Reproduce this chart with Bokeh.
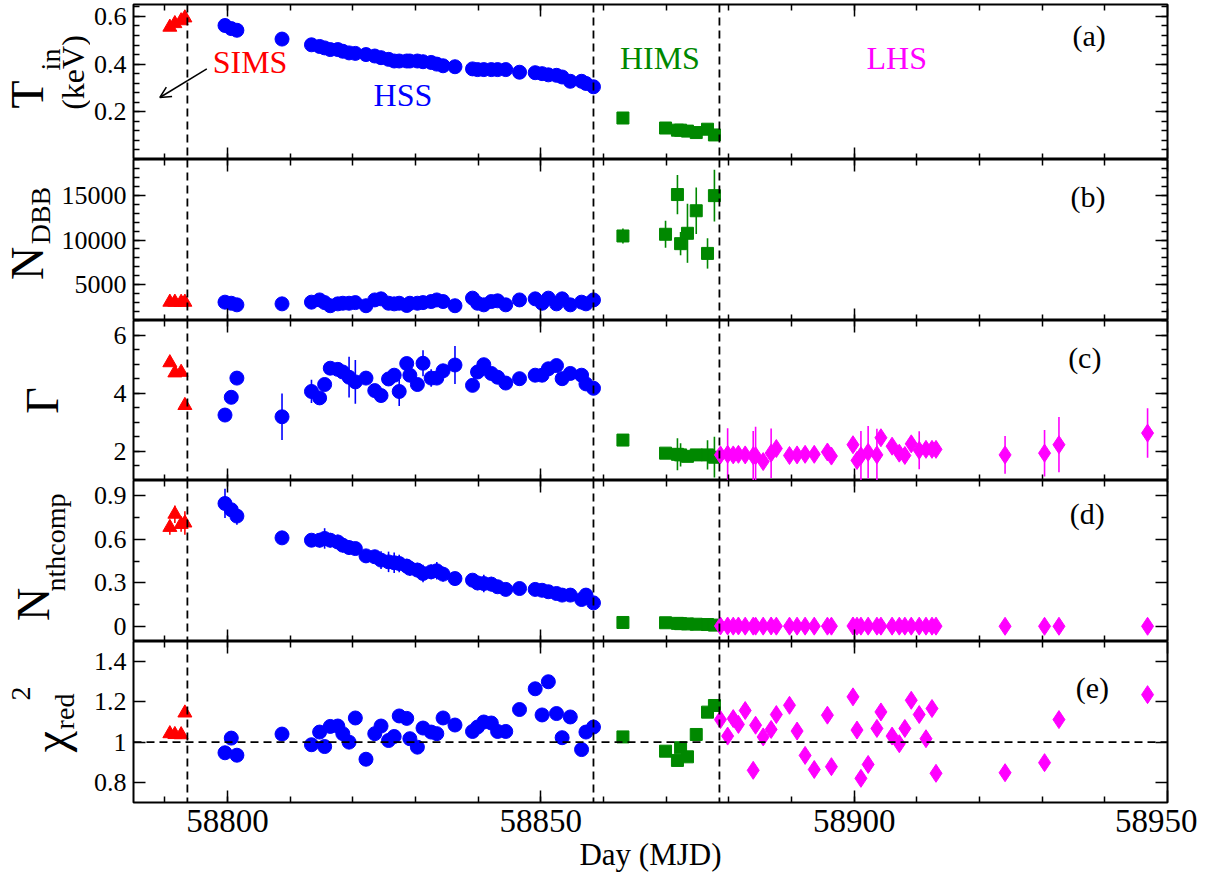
import math
from bokeh.plotting import figure
from bokeh.models import (FixedTicker, Span, Label, Arrow, OpenHead, LinearAxis,
                          Range1d, ColumnDataSource)
from bokeh.layouts import column, row
from bokeh.embed import file_html
from bokeh.resources import INLINE

FONT = "Liberation Serif"

# ---------------- data ----------------
sims_day = [58790.8, 58791.6, 58792.6, 58793.2]
sims_tin = [0.555, 0.570, 0.582, 0.594]
sims_tin_err = [0.008, 0.008, 0.008, 0.008]
sims_ndbb = [3050, 3050, 3040, 3050]
sims_ndbb_err = [150, 150, 150, 150]
sims_gamma = [5.05, 4.70, 4.72, 3.58]
sims_gamma_err = [0.10, 0.10, 0.10, 0.10]
sims_nth = [0.68, 0.77, 0.70, 0.71]
sims_nth_err = [0.05, 0.06, 0.05, 0.08]
sims_chi = [1.042, 1.038, 1.037, 1.145]

hss_day = [58799.6, 58800.6, 58801.5, 58808.7, 58813.4, 58814.7, 58815.5, 58816.4,
           58817.6, 58818.4, 58819.4, 58820.4, 58822.1, 58823.5, 58824.5, 58825.7,
           58826.6, 58827.4, 58828.6, 58829.1, 58830.3, 58831.2, 58832.5, 58833.4,
           58834.4, 58836.3, 58839.1, 58839.9, 58840.9, 58842.1, 58843.1, 58844.4,
           58846.6, 58849.1, 58850.2, 58851.2, 58852.5, 58853.4, 58854.7, 58856.5,
           58857.2, 58858.4]
hss_tin = [0.562, 0.549, 0.542, 0.505, 0.481, 0.474, 0.468, 0.461, 0.461, 0.454,
           0.447, 0.445, 0.440, 0.434, 0.427, 0.420, 0.413, 0.413, 0.413, 0.413,
           0.413, 0.410, 0.407, 0.400, 0.393, 0.389, 0.380, 0.377, 0.377, 0.377,
           0.377, 0.377, 0.366, 0.364, 0.360, 0.355, 0.353, 0.346, 0.328, 0.328,
           0.319, 0.305]
hss_tin_err = [0.015, 0.010, 0.010, 0.010, 0.008, 0.010, 0.010, 0.010, 0.010, 0.010,
               0.010, 0.012, 0.015, 0.012, 0.012, 0.015, 0.015, 0.015, 0.015, 0.015,
               0.015, 0.015, 0.015, 0.015, 0.012, 0.020, 0.020, 0.020, 0.020, 0.020,
               0.020, 0.015, 0.015, 0.015, 0.015, 0.020, 0.020, 0.020, 0.015, 0.012,
               0.015, 0.012]
hss_ndbb = [3050, 2930, 2750, 2860, 3050, 3300, 3000, 2650, 2860, 2930, 2930, 3000,
            2650, 3300, 3420, 2930, 2860, 2930, 2680, 2930, 2930, 3000, 3120, 3300,
            3120, 2650, 3500, 2930, 2750, 3120, 3200, 2750, 3300, 3420, 2930, 3500,
            2860, 3420, 2750, 3050, 2860, 3300]
hss_ndbb_err = [150, 150, 150, 150, 150, 150, 150, 150, 150, 150, 150, 150,
                150, 150, 150, 150, 150, 150, 150, 150, 150, 150, 150, 150,
                150, 150, 150, 150, 150, 150, 150, 150, 150, 150, 150, 150,
                150, 150, 150, 150, 150, 150]
hss_gamma = [3.25, 3.86, 4.52, 3.19, 4.06, 3.84, 4.30, 4.86, 4.82, 4.73, 4.55, 4.39,
             4.52, 4.09, 3.92, 4.49, 4.62, 4.06, 5.02, 4.62, 4.30, 5.03, 4.52, 4.52,
             4.77, 4.97, 4.27, 4.73, 4.98, 4.68, 4.55, 4.35, 4.50, 4.62, 4.62, 4.84,
             4.95, 4.50, 4.68, 4.62, 4.32, 4.17]
hss_gamma_err = [0.10, 0.10, 0.10, 0.80, 0.40, 0.10, 0.10, 0.10, 0.10, 0.10, 0.70, 0.75,
                 0.10, 0.10, 0.10, 0.10, 0.10, 0.50, 0.10, 0.10, 0.10, 0.45, 0.30, 0.10,
                 0.10, 0.65, 0.10, 0.10, 0.10, 0.10, 0.10, 0.10, 0.10, 0.10, 0.10, 0.10,
                 0.10, 0.10, 0.15, 0.15, 0.10, 0.10]
hss_nth = [0.843, 0.800, 0.757, 0.608, 0.592, 0.592, 0.604, 0.592, 0.580, 0.558,
           0.542, 0.535, 0.485, 0.479, 0.456, 0.444, 0.438, 0.433, 0.415, 0.400,
           0.388, 0.365, 0.376, 0.383, 0.360, 0.330, 0.319, 0.300, 0.296, 0.292,
           0.274, 0.256, 0.262, 0.256, 0.250, 0.240, 0.228, 0.217, 0.217, 0.187,
           0.217, 0.164]
hss_nth_err = [0.10, 0.05, 0.06, 0.04, 0.03, 0.05, 0.07, 0.05, 0.05, 0.05, 0.05, 0.04,
               0.03, 0.04, 0.06, 0.07, 0.07, 0.06, 0.05, 0.05, 0.05, 0.06, 0.05, 0.06,
               0.05, 0.03, 0.04, 0.05, 0.06, 0.05, 0.04, 0.04, 0.04, 0.04, 0.04, 0.04,
               0.04, 0.04, 0.04, 0.03, 0.03, 0.03]
hss_chi = [0.947, 1.020, 0.935, 1.040, 0.987, 1.050, 0.978, 1.078, 1.080, 1.042,
           1.000, 1.120, 0.915, 1.042, 1.080, 1.008, 1.028, 1.130, 1.118, 1.017,
           0.975, 1.070, 1.050, 1.042, 1.120, 1.085, 1.053, 1.075, 1.100, 1.095,
           1.053, 1.053, 1.162, 1.265, 1.135, 1.300, 1.142, 1.022, 1.125, 0.963,
           1.050, 1.075]

hims_day = [58863.1, 58869.9, 58871.8, 58872.3, 58873.4, 58874.8, 58876.6, 58877.7]
hims_tin = [0.174, 0.132, 0.123, 0.123, 0.119, 0.113, 0.127, 0.103]
hims_tin_err = [0.010, 0.015, 0.010, 0.010, 0.010, 0.010, 0.010, 0.015]
hims_ndbb = [10450, 10640, 15080, 9590, 10750, 13270, 8500, 14960]
hims_ndbb_err = [830, 1500, 2200, 1300, 3300, 2600, 1700, 2900]
hims_gamma = [2.39, 1.94, 1.90, 1.88, 1.83, 1.88, 1.88, 1.80]
hims_gamma_err = [0.08, 0.10, 0.55, 0.40, 0.10, 0.10, 0.50, 0.70]
hims_nth = [0.030, 0.028, 0.024, 0.022, 0.020, 0.018, 0.016, 0.012]
hims_nth_err = [0.003, 0.003, 0.003, 0.003, 0.003, 0.003, 0.003, 0.003]
hims_chi = [1.026, 0.955, 0.909, 0.972, 0.927, 1.038, 1.149, 1.182]

lhs_day = [58878.66, 58879.81, 58880.70, 58881.53, 58882.61, 58883.89, 58884.27,
           58885.48, 58886.75, 58887.58, 58889.68, 58890.89, 58892.17, 58893.63,
           58895.73, 58896.37, 58899.81, 58900.45, 58901.08, 58902.23, 58903.63,
           58904.27, 58906.05, 58907.20, 58908.09, 58909.11, 58910.38, 58911.46,
           58912.42, 58913.06, 58924.08, 58930.38, 58932.68, 58946.82]
lhs_gamma = [1.88, 1.90, 1.88, 1.90, 1.88, 1.85, 1.85, 1.65, 1.94, 2.10, 1.86, 1.88,
             1.90, 1.90, 1.98, 1.84, 2.23, 1.69, 1.85, 1.97, 1.88, 2.47, 2.18, 1.94,
             1.86, 2.26, 2.04, 2.07, 2.07, 2.07, 1.88, 1.94, 2.23, 2.63]
lhs_gamma_err = [0.15, 0.90, 0.10, 0.10, 0.10, 0.85, 1.00, 0.10, 0.85, 0.10, 0.10, 0.10,
                 0.10, 0.10, 0.10, 0.10, 0.10, 0.10, 0.85, 0.90, 0.90, 0.10, 0.10, 0.10,
                 0.10, 0.10, 0.65, 0.10, 0.10, 0.10, 0.65, 0.80, 0.95, 0.85]
lhs_nth = [0.006, 0.006, 0.005, 0.006, 0.005, 0.005, 0.005, 0.005, 0.006, 0.005,
           0.005, 0.005, 0.005, 0.005, 0.005, 0.005, 0.006, 0.005, 0.005, 0.005,
           0.005, 0.005, 0.005, 0.005, 0.005, 0.005, 0.005, 0.005, 0.005, 0.005,
           0.004, 0.004, 0.004, 0.004]
lhs_nth_err = [0.002, 0.002, 0.002, 0.002, 0.002, 0.002, 0.002, 0.002, 0.002, 0.002,
               0.002, 0.002, 0.002, 0.002, 0.002, 0.002, 0.002, 0.002, 0.002, 0.002,
               0.002, 0.002, 0.002, 0.002, 0.002, 0.002, 0.002, 0.002, 0.002, 0.002,
               0.002, 0.002, 0.002, 0.002]
lhs_chi = [1.112, 1.030, 1.117, 1.088, 1.157, 0.860, 1.084, 1.026, 1.063, 1.137,
           1.183, 1.055, 0.934, 0.864, 1.134, 0.878, 1.225, 1.060, 0.820, 0.889,
           1.068, 1.150, 1.030, 0.992, 1.068, 1.208, 1.137, 1.017, 1.167, 0.845,
           0.848, 0.898, 1.112, 1.236]

state_boundaries = [58793.6, 58858.4, 58878.5]
x_ticks = [58800, 58850, 58900, 58950]
x_tick_labels = ["58800", "58850", "58900", "58950"]

# ---------------- layout / style ----------------
X_MIN, X_MAX = 58785, 58950
FRAME_W = 1034
LEFT_TOTAL = 133          # px from the figure's left edge to the frame
RED, BLUE, GREEN, MAGENTA = "#ff0000", "#0000ff", "#008800", "#ff00ff"

# axis titles: (text, x in title strip, y from top of the panel frame, font px)
panels = [
    dict(key="tin", ymin=0.0, ymax=0.65, majors=[0.2, 0.4, 0.6],
         minors=[0.04 * i for i in range(1, 17)],
         labels={0.2: "0.2", 0.4: "0.4", 0.6: "0.6"},
         frame_h=155, top=4, title_w=90,
         title=[("T", 27, 90, 46), ("in", 50, 55, 28), ("(keV)", 72, 68, 32)],
         tag=("(a)", 58937.5, 0.522)),
    dict(key="ndbb", ymin=1000, ymax=19000, majors=[5000, 10000, 15000],
         minors=[1000 * i for i in range(1, 20)],
         labels={5000: "5000", 10000: "10000", 15000: "15000"},
         frame_h=161, top=0, title_w=57,
         title=[("N", 27, 104, 46), ("DBB", 40, 56, 28)],
         tag=("(b)", 58937.3, 14890)),
    dict(key="gamma", ymin=1.0, ymax=6.5, majors=[2, 4, 6],
         minors=[1.0 + 0.5 * i for i in range(0, 12)],
         labels={2: "2", 4: "4", 6: "6"},
         frame_h=160, top=0, title_w=76,
         title=[("Γ", 42, 80, 46)],
         tag=("(c)", 58936.8, 5.23)),
    dict(key="nth", ymin=-0.1, ymax=1.0, majors=[0, 0.3, 0.6, 0.9],
         minors=[0.15, 0.45, 0.75],
         labels={0: "0", 0.3: "0.3", 0.6: "0.6", 0.9: "0.9"},
         frame_h=161, top=0, title_w=84,
         title=[("N", 33, 124, 46), ("nthcomp", 55, 62, 28)],
         tag=("(d)", 58937.2, 0.775)),
    dict(key="chi", ymin=0.7, ymax=1.5, majors=[0.8, 1, 1.2, 1.4],
         minors=[],
         labels={0.8: "0.8", 1: "1", 1.2: "1.2", 1.4: "1.4"},
         frame_h=161, top=0, title_w=86,
         title=[("χ", 50, 100, 48), ("red", 64, 70, 28), ("2", 20, 52, 28)],
         tag=("(e)", 58938.0, 1.273)),
]

series = {
    "tin": [(sims_day, sims_tin, sims_tin_err), (hss_day, hss_tin, hss_tin_err),
            (hims_day, hims_tin, hims_tin_err), None],
    "ndbb": [(sims_day, sims_ndbb, sims_ndbb_err), (hss_day, hss_ndbb, hss_ndbb_err),
             (hims_day, hims_ndbb, hims_ndbb_err), None],
    "gamma": [(sims_day, sims_gamma, sims_gamma_err), (hss_day, hss_gamma, hss_gamma_err),
              (hims_day, hims_gamma, hims_gamma_err), (lhs_day, lhs_gamma, lhs_gamma_err)],
    "nth": [(sims_day, sims_nth, sims_nth_err), (hss_day, hss_nth, hss_nth_err),
            (hims_day, hims_nth, hims_nth_err), (lhs_day, lhs_nth, lhs_nth_err)],
    "chi": [(sims_day, sims_chi, None), (hss_day, hss_chi, None),
            (hims_day, hims_chi, None), (lhs_day, lhs_chi, None)],
}
styles = [("triangle", RED, 14), ("circle", BLUE, 14), ("square", GREEN, 12),
          ("diamond", MAGENTA, 18)]


def style_axis(ax, ticker, overrides, show, size):
    ax.ticker = ticker
    ax.major_tick_in = 12
    ax.major_tick_out = 0
    ax.minor_tick_in = 6
    ax.minor_tick_out = 0
    ax.major_tick_line_width = 1.5
    ax.minor_tick_line_width = 1.5
    ax.major_tick_line_color = "black"
    ax.minor_tick_line_color = "black"
    ax.axis_line_color = None
    if show:
        ax.major_label_overrides = overrides
        ax.major_label_text_font = FONT
        ax.major_label_text_font_size = size
        ax.major_label_text_color = "black"
        ax.major_label_standoff = 7
    else:
        ax.major_label_overrides = {t: "" for t in ticker.ticks}
        ax.major_label_text_font_size = "0px"
        ax.major_label_text_color = None
        ax.major_label_standoff = 0


rows = []
xticker = FixedTicker(ticks=x_ticks, minor_ticks=[58790 + 10 * i for i in range(16)])
xover = {t: s for t, s in zip(x_ticks, x_tick_labels)}

for i, cfg in enumerate(panels):
    last = i == len(panels) - 1
    fh = cfg["frame_h"]
    p = figure(frame_width=FRAME_W, frame_height=fh,
               x_range=Range1d(X_MIN, X_MAX), y_range=Range1d(cfg["ymin"], cfg["ymax"]),
               output_backend="svg", toolbar_location=None,
               min_border_left=LEFT_TOTAL - cfg["title_w"], min_border_right=30,
               min_border_top=cfg["top"], min_border_bottom=0)
    p.xgrid.visible = False
    p.ygrid.visible = False
    p.outline_line_color = "black"
    p.outline_line_width = 2
    p.background_fill_color = "white"
    p.border_fill_color = "white"

    yticker = FixedTicker(ticks=cfg["majors"], minor_ticks=cfg["minors"])
    style_axis(p.yaxis[0], yticker, cfg["labels"], True, "26px")
    style_axis(p.xaxis[0], xticker, xover, last, "33px")
    if last:
        p.xaxis[0].axis_label = "Day (MJD)"
        p.xaxis[0].axis_label_text_font = FONT
        p.xaxis[0].axis_label_text_font_size = "31px"
        p.xaxis[0].axis_label_text_font_style = "normal"
        p.xaxis[0].axis_label_text_color = "black"
        p.xaxis[0].axis_label_standoff = 2

    ax_r = LinearAxis()
    style_axis(ax_r, yticker, {}, False, "0px")
    p.add_layout(ax_r, "right")
    ax_t = LinearAxis()
    style_axis(ax_t, xticker, {}, False, "0px")
    p.add_layout(ax_t, "above")

    for b in state_boundaries:
        p.add_layout(Span(location=b, dimension="height", line_color="black",
                          line_width=1.8, line_dash="8 5"))
    if cfg["key"] == "chi":
        p.add_layout(Span(location=1.0, dimension="width", line_color="black",
                          line_width=1.8, line_dash="8 5"))

    for sty, ser in zip(styles, series[cfg["key"]]):
        if ser is None:
            continue
        marker, color, size = sty
        xs, ys, es = ser
        if es is not None:
            src = ColumnDataSource(dict(x=xs, lo=[y - e for y, e in zip(ys, es)],
                                        hi=[y + e for y, e in zip(ys, es)]))
            p.segment(x0="x", y0="lo", x1="x", y1="hi", source=src,
                      line_color=color, line_width=1.6)
        p.scatter(xs, ys, marker=marker, size=size, fill_color=color,
                  line_color=color, line_width=1)

    t, tx, ty = cfg["tag"]
    p.add_layout(Label(x=tx, y=ty, text=t, text_font=FONT, text_font_size="30px",
                       text_align="center", text_baseline="middle", text_color="black"))

    if cfg["key"] == "tin":
        for txt, lx, ly, col in [("SIMS", 58803.6, 0.41, RED), ("HSS", 58828.0, 0.272, BLUE),
                                 ("HIMS", 58869.0, 0.427, GREEN), ("LHS", 58906.8, 0.427, MAGENTA)]:
            p.add_layout(Label(x=lx, y=ly, text=txt, text_font=FONT, text_font_size="32px",
                               text_align="center", text_baseline="middle", text_color=col))
        p.add_layout(Arrow(end=OpenHead(size=11, line_width=1.5, line_color="black"),
                           x_start=58796.7, y_start=0.38, x_end=58789.2, y_end=0.26,
                           line_width=1.5, line_color="black"))

    # narrow strip to the left of the panel holding its rotated axis title
    tw = cfg["title_w"]
    tf = figure(frame_width=tw, frame_height=fh, x_range=Range1d(0, tw),
                y_range=Range1d(0, fh), output_backend="svg", toolbar_location=None,
                x_axis_location=None, y_axis_location=None,
                min_border_left=0, min_border_right=0, min_border_top=cfg["top"],
                min_border_bottom=0)
    tf.xgrid.visible = False
    tf.ygrid.visible = False
    tf.outline_line_color = None
    tf.background_fill_color = "white"
    tf.border_fill_color = "white"
    for txt, px, py, fs in cfg["title"]:
        tf.add_layout(Label(x=px, y=fh - py, text=txt, text_font=FONT,
                            text_font_size=f"{fs}px", angle=math.pi / 2,
                            text_align="center", text_baseline="middle",
                            text_color="black"))
    rows.append(row(tf, p, spacing=0))

layout = column(*rows, spacing=0)
open("out.html", "w").write(file_html(layout, INLINE))
